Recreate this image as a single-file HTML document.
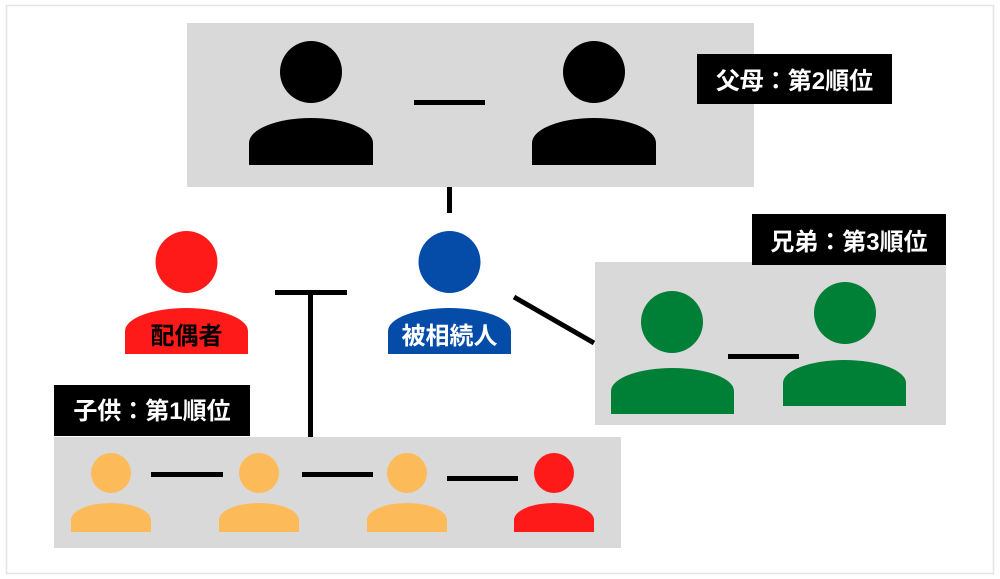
<!DOCTYPE html>
<html>
<head>
<meta charset="utf-8">
<style>
html,body{margin:0;padding:0;background:#fff;}
svg{display:block;}
text{font-family:"Liberation Sans","Noto Sans CJK JP",sans-serif;font-weight:bold;}
</style>
</head>
<body>
<svg width="1000" height="579" viewBox="0 0 1000 579" xmlns="http://www.w3.org/2000/svg">
  <rect x="0" y="0" width="1000" height="579" fill="#fff"/>
  <rect x="6.5" y="5.5" width="987" height="568" fill="#fff" stroke="#e4e4e4" stroke-width="1.5"/>

  <!-- Parents box -->
  <rect x="187" y="23" width="567" height="164" fill="#d9d9d9"/>
  <circle cx="311" cy="72" r="31" fill="#000"/>
  <path d="M249 165 L249 143 A62 25 0 0 1 373 143 L373 165 Z" fill="#000"/>
  <circle cx="594" cy="72" r="31" fill="#000"/>
  <path d="M532 165 L532 143 A62 25 0 0 1 656 143 L656 165 Z" fill="#000"/>
  <rect x="414" y="100" width="71" height="5" fill="#000"/>
  <rect x="697" y="54" width="195" height="50" fill="#000"/>
  <text x="794.5" y="89" font-size="24" fill="#fff" text-anchor="middle">父母：第2順位</text>

  <!-- connector parents to decedent -->
  <rect x="447" y="187" width="5" height="26" fill="#000"/>

  <!-- Spouse -->
  <circle cx="186.5" cy="262" r="31" fill="#ff1a1a"/>
  <path d="M125 354 L125 331 A61.5 23 0 0 1 248 331 L248 354 Z" fill="#ff1a1a"/>
  <text x="186.5" y="344" font-size="24" fill="#000" text-anchor="middle">配偶者</text>

  <!-- Decedent -->
  <circle cx="449.5" cy="262" r="31" fill="#044ca8"/>
  <path d="M388 354 L388 331 A61.5 23 0 0 1 511 331 L511 354 Z" fill="#044ca8"/>
  <text x="449.5" y="344" font-size="24" fill="#fff" text-anchor="middle">被相続人</text>

  <!-- T connector -->
  <rect x="275" y="290" width="72" height="5" fill="#000"/>
  <rect x="308" y="292" width="5" height="145" fill="#000"/>

  <!-- diagonal -->
  <line x1="514" y1="297" x2="594" y2="343" stroke="#000" stroke-width="5"/>

  <!-- Siblings -->
  <rect x="595" y="262" width="351" height="163" fill="#d9d9d9"/>
  <rect x="752" y="214" width="194" height="51" fill="#000"/>
  <text x="849" y="250" font-size="24" fill="#fff" text-anchor="middle">兄弟：第3順位</text>
  <circle cx="672" cy="322" r="31" fill="#007f37"/>
  <path d="M611 414 L611 391 A61.5 23 0 0 1 734 391 L734 414 Z" fill="#007f37"/>
  <circle cx="845" cy="313" r="31" fill="#007f37"/>
  <path d="M783 406 L783 383 A61.5 23 0 0 1 906 383 L906 406 Z" fill="#007f37"/>
  <rect x="728" y="354" width="71" height="5" fill="#000"/>

  <!-- Children -->
  <rect x="54" y="437" width="567" height="111" fill="#d9d9d9"/>
  <rect x="54" y="385" width="196" height="51" fill="#000"/>
  <text x="152" y="419" font-size="24" fill="#fff" text-anchor="middle">子供：第1順位</text>

  <circle cx="111" cy="473" r="20" fill="#fdba58"/>
  <path d="M71 532 L71 520 A40 17 0 0 1 151 520 L151 532 Z" fill="#fdba58"/>
  <circle cx="259" cy="473" r="20" fill="#fdba58"/>
  <path d="M219 532 L219 520 A40 17 0 0 1 299 520 L299 532 Z" fill="#fdba58"/>
  <circle cx="407" cy="473" r="20" fill="#fdba58"/>
  <path d="M367 532 L367 520 A40 17 0 0 1 447 520 L447 532 Z" fill="#fdba58"/>
  <circle cx="554" cy="473" r="20" fill="#ff1a1a"/>
  <path d="M514 532 L514 520 A40 17 0 0 1 594 520 L594 532 Z" fill="#ff1a1a"/>

  <rect x="151" y="472" width="72" height="5" fill="#000"/>
  <rect x="302" y="472" width="71" height="5" fill="#000"/>
  <rect x="447" y="476" width="71" height="5" fill="#000"/>
</svg>
</body>
</html>
